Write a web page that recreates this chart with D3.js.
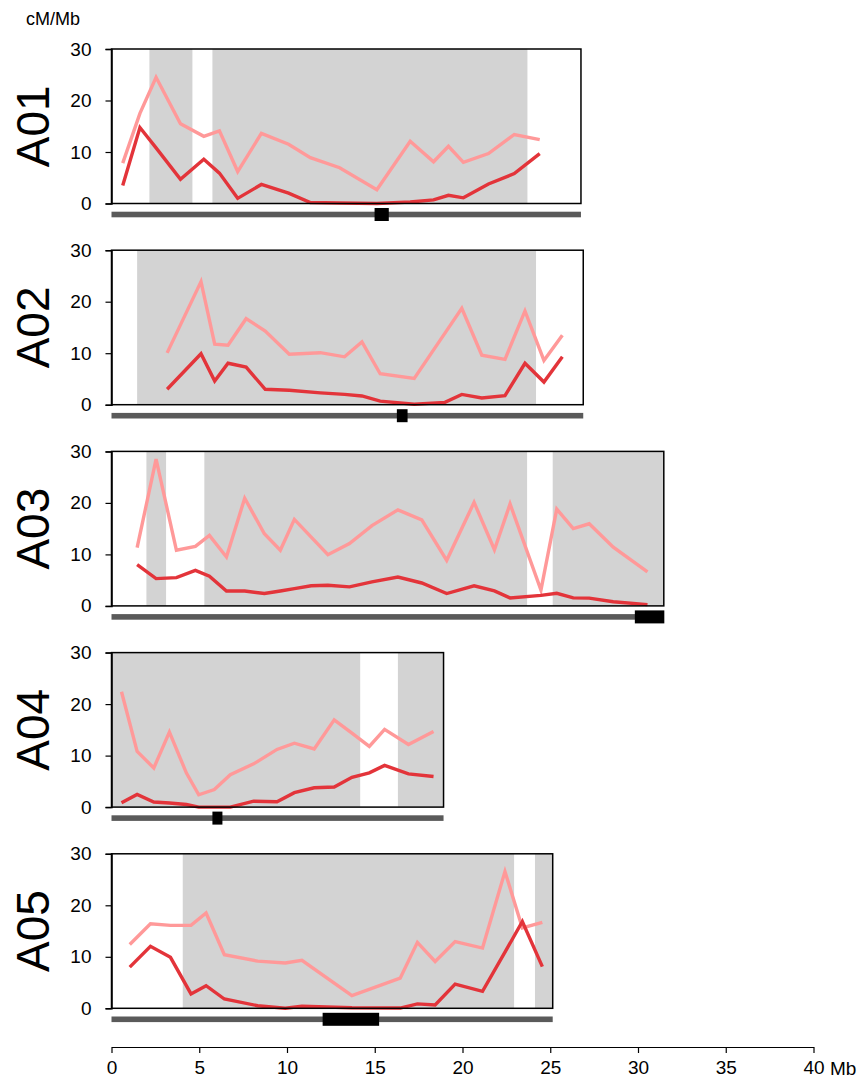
<!DOCTYPE html>
<html>
<head>
<meta charset="utf-8">
<script src="https://cdn.jsdelivr.net/npm/d3@7"></script>
<style>
  html, body { margin: 0; padding: 0; background: #fff; }
  svg { display: block; font-family: "Liberation Sans", Arial, sans-serif; }
</style>
</head>
<body>
<svg id="chart" width="864" height="1084"></svg>
<script>
// ---- Data ----
const chromosomes = ["A01", "A02", "A03", "A04", "A05"];
const chromLengths = [26.75, 26.88, 31.47, 18.92, 25.14];
const yTicks = [0, 10, 20, 30];
const xTicks = [0, 5, 10, 15, 20, 25, 30, 35, 40];

const grayRegions = [
  [[2.16, 4.61], [5.75, 23.7]],
  [[1.46, 24.19]],
  [[1.99, 3.11], [5.29, 23.68], [25.14, 31.47]],
  [[0, 14.17], [16.32, 18.92]],
  [[4.06, 22.94], [24.13, 25.14]]
];
const centromeres = [[14.99, 15.8], [16.26, 16.87], [29.82, 31.5], [5.75, 6.32], [12.03, 15.25]];

const a01Pos   = [0.64, 1.62, 2.54, 3.93, 5.26, 6.15, 7.19, 8.54, 10.09, 11.33, 13.0, 15.12, 17.02, 18.35, 19.2, 20.05, 21.48, 22.95, 24.4];
const a01Light = [7.85, 17.5, 24.5, 15.5, 13.05, 14.1, 6.2, 13.6, 11.5, 8.9, 6.95, 2.66, 12.1, 8.1, 11.1, 8.0, 9.7, 13.4, 12.4];
const a01Dark  = [3.5, 14.75, 10.8, 4.7, 8.6, 5.9, 1.0, 3.7, 2.0, 0.2, 0.1, 0.0, 0.3, 0.7, 1.6, 1.1, 3.8, 5.8, 9.7];

const a02Pos   = [3.17, 5.1, 5.88, 6.64, 7.67, 8.76, 10.13, 11.9, 13.28, 14.27, 15.31, 17.25, 19.0, 19.96, 21.1, 22.42, 23.56, 24.64, 25.69];
const a02Light = [10.06, 23.9, 11.75, 11.55, 16.7, 14.3, 9.8, 10.1, 9.3, 12.2, 6.0, 5.1, 13.9, 18.7, 9.6, 8.8, 18.2, 8.6, 13.5];
const a02Dark  = [3.0, 9.9, 4.6, 8.05, 7.3, 3.0, 2.8, 2.3, 2.0, 1.7, 0.7, 0.1, 0.45, 2.0, 1.3, 1.75, 8.05, 4.4, 9.3];

const a03Pos   = [1.46, 2.54, 3.7, 4.78, 5.58, 6.55, 7.59, 8.71, 9.62, 10.42, 11.38, 12.33, 13.56, 14.84, 16.32, 17.68, 19.1, 20.66, 21.82, 22.71, 24.47, 25.37, 26.31, 27.22, 28.59, 30.54];
const a03Light = [11.3, 28.5, 10.8, 11.55, 13.7, 9.5, 20.9, 14.0, 10.8, 16.8, 13.35, 9.95, 12.1, 15.6, 18.65, 16.7, 8.85, 20.1, 10.9, 19.8, 3.05, 18.8, 15.0, 15.95, 11.4, 6.6];
const a03Dark  = [8.0, 5.3, 5.5, 6.9, 5.75, 2.9, 2.9, 2.4, 2.9, 3.35, 3.9, 4.0, 3.7, 4.65, 5.6, 4.45, 2.4, 3.9, 2.9, 1.55, 2.05, 2.45, 1.55, 1.5, 0.8, 0.25];

const a04Pos   = [0.57, 1.46, 2.41, 3.3, 4.27, 4.97, 5.86, 6.77, 8.1, 9.43, 10.42, 11.55, 12.69, 13.7, 14.69, 15.56, 16.92, 18.35];
const a04Light = [22.4, 10.8, 7.6, 14.55, 6.6, 2.4, 3.4, 6.3, 8.4, 11.2, 12.4, 11.3, 16.95, 14.35, 11.8, 15.1, 12.15, 14.7];
const a04Dark  = [0.85, 2.45, 1.0, 0.8, 0.5, 0, 0, 0, 1.15, 1.05, 2.8, 3.75, 3.9, 5.8, 6.65, 8.1, 6.45, 5.95];

const a05Pos   = [1.04, 2.22, 3.36, 4.53, 5.39, 6.43, 8.33, 9.9, 10.85, 13.7, 16.45, 17.43, 18.44, 19.58, 21.14, 22.42, 23.41, 24.55];
const a05Light = [12.4, 16.4, 16.1, 16.1, 18.5, 10.4, 9.15, 8.8, 9.3, 2.45, 5.85, 12.8, 9.1, 12.95, 11.7, 26.55, 15.6, 16.7];
const a05Dark  = [8.0, 12.05, 9.9, 2.8, 4.4, 1.8, 0.5, 0, 0.4, 0.1, 0.05, 0.85, 0.65, 4.7, 3.3, 10.9, 16.85, 8.1];

const positions = [a01Pos, a02Pos, a03Pos, a04Pos, a05Pos];
const lightSeries = [a01Light, a02Light, a03Light, a04Light, a05Light];
const darkSeries = [a01Dark, a02Dark, a03Dark, a04Dark, a05Dark];

// ---- Layout ----
const svg = d3.select("#chart");
const x = d3.scaleLinear().domain([0, 40]).range([111.5, 813.5]);
const panelTop0 = 49, panelStep = 201.2, panelH = 154.5;
const lightColor = "#ff9999", darkColor = "#e3343a";
const fontFam = "'Liberation Sans', Arial, sans-serif";

chromosomes.forEach((name, i) => {
  const top = panelTop0 + i * panelStep;
  const y = d3.scaleLinear().domain([0, 30]).range([top + panelH, top]);
  const g = svg.append("g");
  const len = chromLengths[i];

  // gray regions
  g.selectAll("rect.gray").data(grayRegions[i]).join("rect")
    .attr("x", d => x(d[0])).attr("width", d => x(d[1]) - x(d[0]))
    .attr("y", y(30)).attr("height", y(0) - y(30))
    .attr("fill", "#d3d3d3");

  // lines
  const line = d3.line().x(d => x(d[0])).y(d => y(d[1]));
  const pts = positions[i];
  g.append("path").datum(pts.map((p, k) => [p, lightSeries[i][k]]))
    .attr("d", line).attr("fill", "none").attr("stroke", lightColor)
    .attr("stroke-width", 3.4).attr("stroke-linejoin", "miter");
  g.append("path").datum(pts.map((p, k) => [p, darkSeries[i][k]]))
    .attr("d", line).attr("fill", "none").attr("stroke", darkColor)
    .attr("stroke-width", 3.4).attr("stroke-linejoin", "miter");

  // box border
  g.append("rect")
    .attr("x", x(0)).attr("y", y(30))
    .attr("width", x(len) - x(0)).attr("height", y(0) - y(30))
    .attr("fill", "none").attr("stroke", "#000").attr("stroke-width", 1.5);

  // y axis
  const yAxis = d3.axisLeft(y).tickValues(yTicks).tickSize(6).tickPadding(14);
  const ya = g.append("g").attr("transform", `translate(${x(0)},0)`).call(yAxis);
  ya.attr("font-size", 19).attr("font-family", fontFam);
  ya.select(".domain").attr("stroke", "#000").attr("stroke-width", 1.5);
  ya.selectAll(".tick line").attr("stroke", "#000").attr("stroke-width", 1.2);
  ya.selectAll(".tick text").attr("fill", "#000");

  // chromosome bar
  const barY = y(0) + 11;
  g.append("rect")
    .attr("x", x(0)).attr("width", x(len) - x(0))
    .attr("y", barY - 2.8).attr("height", 5.6)
    .attr("fill", "#5a5a5a");
  // centromere
  const c = centromeres[i];
  g.append("rect")
    .attr("x", x(c[0])).attr("width", x(c[1]) - x(c[0]))
    .attr("y", barY - 6.5).attr("height", 13)
    .attr("fill", "#000");

  // chromosome label
  g.append("text")
    .attr("transform", `translate(49,${(y(0) + y(30)) / 2}) rotate(-90)`)
    .attr("text-anchor", "middle")
    .attr("font-size", 46)
    .attr("fill", "#000")
    .text(name);
});

// y unit label
svg.append("text").attr("x", 53).attr("y", 25).attr("text-anchor", "middle")
  .attr("font-size", 18).attr("fill", "#000").text("cM/Mb");

// bottom x axis
const xAxis = d3.axisBottom(x).tickValues(xTicks).tickSize(6).tickPadding(8).tickSizeOuter(0);
const xa = svg.append("g").attr("transform", "translate(0,1047)").call(xAxis);
xa.attr("font-size", 19).attr("font-family", fontFam);
xa.select(".domain").attr("stroke", "#000").attr("stroke-width", 1.2);
xa.selectAll(".tick line").attr("stroke", "#000").attr("stroke-width", 1.2);
xa.selectAll(".tick text").attr("fill", "#000");
svg.append("text").attr("x", 830).attr("y", 1074.5).attr("font-size", 19)
  .attr("fill", "#000").text("Mb");
</script>
</body>
</html>
